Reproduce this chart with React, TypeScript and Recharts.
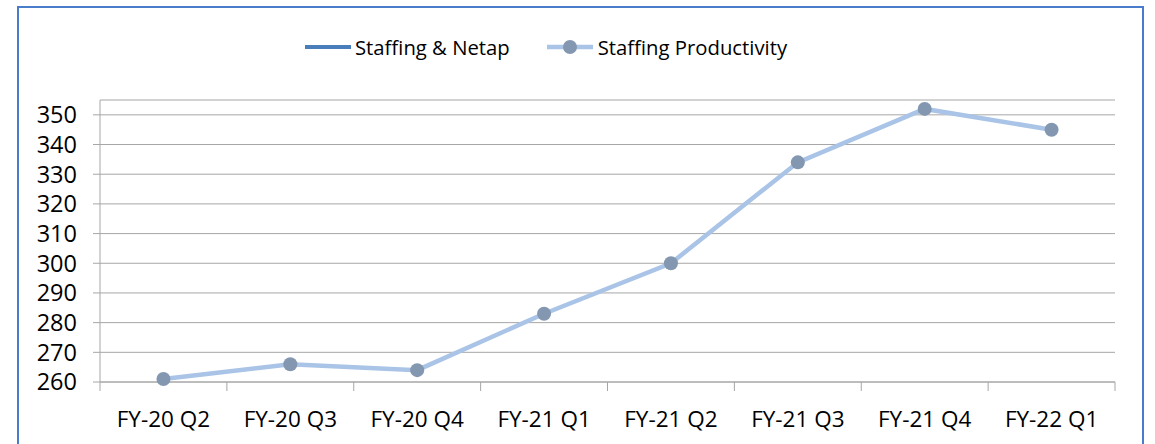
import React from 'react';
import { LineChart, Line, XAxis, YAxis, CartesianGrid, Legend } from 'recharts';

const categories = ['FY-20 Q2', 'FY-20 Q3', 'FY-20 Q4', 'FY-21 Q1', 'FY-21 Q2', 'FY-21 Q3', 'FY-21 Q4', 'FY-22 Q1'];
const staffingNetap: (number | null)[] = [null, null, null, null, null, null, null, null];
const staffingProductivity = [261, 266, 264, 283, 300, 334, 352, 345];
const yTicks = [260, 270, 280, 290, 300, 310, 320, 330, 340, 350];

const seriesNames = { netap: 'Staffing & Netap', prod: 'Staffing Productivity' };

const data = categories.map((c, i) => ({ cat: c, netap: staffingNetap[i], prod: staffingProductivity[i] }));

const FONT = '"Open Sans", sans-serif';
const GRID = '#a6a6a6';
const NETAP_COLOR = '#4a7ebb';
const PROD_LINE = '#a9c4e6';
const PROD_DOT = '#8497b0';

const XTick = (props: any) => {
  const { x, y, payload, index, visibleTicksCount } = props;
  const half = payload && payload.offset ? payload.offset : 63.4;
  const axisY = y - 30;
  const last = index === (visibleTicksCount ?? categories.length) - 1;
  return (
    <g>
      <line x1={x - half} x2={x - half} y1={axisY} y2={axisY + 9} stroke={GRID} strokeWidth={1} />
      {last && <line x1={x + half} x2={x + half} y1={axisY} y2={axisY + 9} stroke={GRID} strokeWidth={1} />}
      <text x={x} y={y - 1} dy="0.71em" textAnchor="middle" fill="#000" fontSize={22.5} fontFamily={FONT}>
        {payload.value}
      </text>
    </g>
  );
};

const LegendContent = () => (
  <div style={{ position: 'absolute', left: 305, top: 30, whiteSpace: 'nowrap', fontFamily: FONT, fontSize: 20.3, color: '#000', display: 'flex', alignItems: 'center' }}>
    <svg width={46} height={10} style={{ display: 'block' }}>
      <line x1={0} x2={46} y1={5} y2={5} stroke={NETAP_COLOR} strokeWidth={4} strokeLinecap="round" />
    </svg>
    <span style={{ marginLeft: 4, lineHeight: '34px' }}>{seriesNames.netap}</span>
    <svg width={46} height={16} style={{ display: 'block', marginLeft: 37 }}>
      <line x1={0} x2={46} y1={8} y2={8} stroke={PROD_LINE} strokeWidth={4.5} />
      <circle cx={23} cy={8} r={7} fill={PROD_DOT} />
    </svg>
    <span style={{ marginLeft: 5, lineHeight: '34px' }}>{seriesNames.prod}</span>
  </div>
);

export default function App() {
  return (
    <div style={{ position: 'absolute', left: 0, top: 0, width: 1155, height: 444, background: '#fff', overflow: 'hidden' }}>
      <div style={{ position: 'absolute', left: 17, top: 6, width: 1127, height: 460, border: '2px solid #4a7ccc', boxSizing: 'border-box' }} />
      <LineChart width={1155} height={444} data={data} margin={{ top: 100, right: 40, bottom: 0, left: 40 }} style={{ position: 'absolute', left: 0, top: 0 }}>
        <CartesianGrid horizontal={true} vertical={false} stroke={GRID} strokeWidth={1} />
        <XAxis
          dataKey="cat"
          scale="band"
          height={62}
          tickSize={9}
          tickMargin={21}
          tickLine={false}
          axisLine={{ stroke: GRID }}
          tick={<XTick />}
          interval={0}
        />
        <YAxis
          domain={[260, 355]}
          ticks={yTicks}
          width={60}
          tickSize={7}
          tickMargin={16}
          axisLine={{ stroke: GRID }}
          tickLine={{ stroke: GRID }}
          tick={{ fill: '#000', fontSize: 23.5, fontFamily: FONT }}
          interval={0}
        />
        <Legend content={<LegendContent />} wrapperStyle={{ position: 'absolute', left: 0, top: 0, width: 0, height: 0, overflow: 'visible' }} />
        <Line dataKey="netap" name={seriesNames.netap} stroke={NETAP_COLOR} strokeWidth={4} dot={false} isAnimationActive={false} />
        <Line dataKey="prod" name={seriesNames.prod} stroke={PROD_LINE} strokeWidth={4.5} dot={{ r: 7, fill: PROD_DOT, stroke: 'none' }} activeDot={false} isAnimationActive={false} />
      </LineChart>
    </div>
  );
}
